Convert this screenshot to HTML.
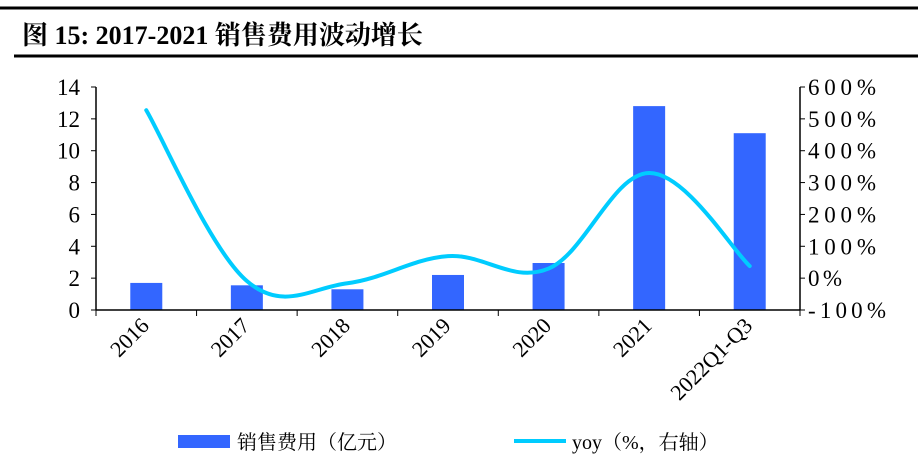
<!DOCTYPE html>
<html><head><meta charset="utf-8"><style>
body{margin:0;width:918px;height:464px;background:#fff;overflow:hidden;font-family:"Liberation Serif","Noto Serif CJK SC",serif}
</style></head><body>
<svg width="918" height="464" xmlns="http://www.w3.org/2000/svg">
<line x1="0" y1="8" x2="918" y2="8" stroke="#000" stroke-width="3"/>
<line x1="14" y1="56" x2="918" y2="56" stroke="#000" stroke-width="3"/>
<text x="22" y="44" font-size="26" font-weight="bold" font-family="Liberation Serif,'Noto Serif CJK SC',serif">图 15: 2017-2021 销售费用波动增长</text>
<g id="plot"></g>
<rect x="178" y="435" width="52" height="13" fill="#3366ff"/>
<text x="237" y="449" font-size="20">销售费用（亿元）</text>
<line x1="514" y1="441" x2="566" y2="441" stroke="#00ccff" stroke-width="4"/>
<text x="572" y="449" font-size="20">yoy（%，右轴）</text>
</svg>
<script>
const categories=["2016","2017","2018","2019","2020","2021","2022Q1-Q3"];
const expense=[1.7,1.55,1.3,2.2,2.95,12.8,11.1];
const yoy=[527,-9,-16,69,30,330,38];
const leftTicks=[0,2,4,6,8,10,12,14];
const rightTicks=[-100,0,100,200,300,400,500,600];
const NS="http://www.w3.org/2000/svg";
const g=document.getElementById('plot');
const X0=96,X1=800,Y0=310,Y1=87;
const band=(X1-X0)/categories.length;
const xc=i=>X0+band*(i+0.5);
const yl=v=>Y0-(v/14)*(Y0-Y1);
const yr=v=>Y0-((v+100)/700)*(Y0-Y1);
function mk(t,a){const e=document.createElementNS(NS,t);for(const k in a)e.setAttribute(k,a[k]);g.appendChild(e);return e;}
expense.forEach((v,i)=>{
 const r=mk('rect',{x:xc(i)-16,y:yl(v),width:32,height:Y0-yl(v),fill:'#3366ff'});
 
 
});
let ax=mk('line',{x1:X0,y1:Y1,x2:X0,y2:Y0,stroke:'#000','stroke-width':1.5});


ax=mk('line',{x1:X1,y1:Y1,x2:X1,y2:Y0,stroke:'#000','stroke-width':1.5});


ax=mk('line',{x1:X0,y1:Y0,x2:X1,y2:Y0,stroke:'#000','stroke-width':1.5});


leftTicks.forEach(v=>{
 mk('line',{x1:X0-5,y1:yl(v),x2:X0,y2:yl(v),stroke:'#000'});
 const t=mk('text',{x:X0-16,y:yl(v)+8,'font-size':23,'text-anchor':'end'});t.textContent=v;
 
 
});
rightTicks.forEach(v=>{
 mk('line',{x1:X1,y1:yr(v),x2:X1+5,y2:yr(v),stroke:'#000'});
 const t=mk('text',{x:X1+8,y:yr(v)+8,'font-size':23,textLength:v<0?78:(v===0?34:68)});t.textContent=v+'%';
 
 
});
for(let i=0;i<=categories.length;i++)mk('line',{x1:X0+band*i,y1:Y0,x2:X0+band*i,y2:Y0+6,stroke:'#000'});
categories.forEach((c,i)=>{
 const x=xc(i)+4,y=Y0+17;
 const t=mk('text',{x:x,y:y,'font-size':22,'text-anchor':'end',transform:`rotate(-45 ${x} ${y})`});t.textContent=c;
 
 
});
const pts=yoy.map((v,i)=>[xc(i),yr(v)]);
let d=`M${pts[0][0]},${pts[0][1]}`;const k=0.18;
for(let i=0;i<pts.length-1;i++){
 const p0=pts[Math.max(i-1,0)],p1=pts[i],p2=pts[i+1],p3=pts[Math.min(i+2,pts.length-1)];
 d+=` C${p1[0]+(p2[0]-p0[0])*k},${p1[1]+(p2[1]-p0[1])*k} ${p2[0]-(p3[0]-p1[0])*k},${p2[1]-(p3[1]-p1[1])*k} ${p2[0]},${p2[1]}`;
}
const ln=mk('path',{d:d,fill:'none',stroke:'#00ccff','stroke-width':4,'stroke-linecap':'round'});


</script>
</body></html>
